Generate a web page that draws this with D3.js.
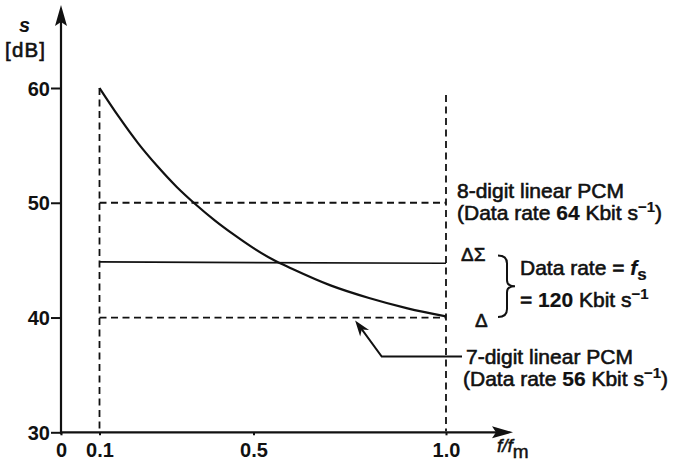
<!DOCTYPE html>
<html><head><meta charset="utf-8">
<script src="https://cdn.jsdelivr.net/npm/d3@7"></script>
<style>
body{margin:0;background:#fff}
svg{display:block}
text{font-family:"Liberation Sans",Arial,Helvetica,sans-serif;fill:#111}
</style>
</head><body>
<svg id="chart" width="682" height="464"></svg>
<script>
// Signal-to-noise ratio s [dB] vs. relative bandwidth f/fm
const curveF = [0.1, 0.15, 0.2, 0.25, 0.3, 0.35, 0.4, 0.45, 0.5, 0.55, 0.6, 0.7, 0.8, 0.9, 1.0];
const curveS = [60, 57.5, 55.2, 53.2, 51.4, 49.85, 48.45, 47.2, 46.05, 45.05, 44.25, 42.8, 41.7, 40.8, 40.1];
const pcm8Level = 50;          // 8-digit linear PCM
const pcm7Level = 40;          // 7-digit linear PCM
const deltaSigmaLevel = 44.8;  // delta-sigma modulation
const bandLimits = [0.1, 1.0];
const bandTops = [60, 59.4];
const xTicks = [0, 0.1, 0.5, 1.0];
const xTickLabels = ["0", "0.1", "0.5", "1.0"];
const yTicks = [30, 40, 50, 60];
const yTickLabels = ["30", "40", "50", "60"];
// pointer for the 7-digit label: tip and elbow in data units
const pointerTip = [0.764, 39.75];
const pointerElbow = [0.833, 36.6];

const svg = d3.select("#chart");
const x = d3.scaleLinear().domain([0, 1]).range([61, 446]);
const y = d3.scaleLinear().domain([30, 60]).range([432.3, 88]);
const ink = "#111";
const dash = "7,4.5";

// axes with arrowheads
const x0 = x(0), y0 = y(30);
const xEnd = x.range()[1] + 67, yEnd = y.range()[1] - 83;
svg.append("line").attr("x1", x0).attr("y1", y0 + 2).attr("x2", x0).attr("y2", yEnd + 10)
  .attr("stroke", ink).attr("stroke-width", 2.2);
svg.append("line").attr("x1", x0 - 1).attr("y1", y0).attr("x2", xEnd - 10).attr("y2", y0)
  .attr("stroke", ink).attr("stroke-width", 2.2);
svg.append("path").attr("d", `M${x0},${yEnd} L${x0 + 6},${yEnd + 21} L${x0},${yEnd + 17} L${x0 - 6},${yEnd + 21} Z`).attr("fill", ink);
svg.append("path").attr("d", `M${xEnd},${y0} L${xEnd - 21},${y0 - 6} L${xEnd - 17},${y0} L${xEnd - 21},${y0 + 6} Z`).attr("fill", ink);

const yAxis = d3.axisLeft(y).tickValues(yTicks).tickSize(10).tickPadding(1)
  .tickFormat((d, i) => yTickLabels[i]);
const gy = svg.append("g").attr("transform", `translate(${x0},0)`).call(yAxis);
gy.select(".domain").remove();
gy.selectAll(".tick line").attr("stroke", ink).attr("stroke-width", 2);
gy.selectAll(".tick text").attr("font-size", 20).attr("font-weight", "bold")
  .attr("font-family", "Liberation Sans, Arial, sans-serif").attr("fill", ink).attr("dy", "0.36em");

const xAxis = d3.axisBottom(x).tickValues(xTicks).tickSize(3).tickPadding(8)
  .tickFormat((d, i) => xTickLabels[i]);
const gx = svg.append("g").attr("transform", `translate(0,${y0})`).call(xAxis);
gx.select(".domain").remove();
gx.selectAll(".tick line").attr("stroke", ink).attr("stroke-width", 2);
gx.selectAll(".tick text").attr("font-size", 20).attr("font-weight", "bold")
  .attr("font-family", "Liberation Sans, Arial, sans-serif").attr("fill", ink).attr("dy", "0.71em");

// axis titles
svg.append("text").attr("x", 19).attr("y", 32).attr("font-size", 20).attr("font-weight", "bold")
  .attr("font-style", "italic").text("s");
svg.append("text").attr("x", 5).attr("y", 57).attr("font-size", 20.5).attr("letter-spacing", 1.2)
  .attr("stroke", ink).attr("stroke-width", 0.6).text("[dB]");
const xt = svg.append("text").attr("x", 497).attr("y", 452).attr("font-size", 19)
  .attr("font-style", "italic").attr("stroke", ink).attr("stroke-width", 0.5);
xt.append("tspan").text("f/f");
xt.append("tspan").attr("dy", 6).attr("font-style", "normal").attr("font-size", 19).text("m");

// band limit verticals
bandLimits.forEach((f, i) => {
  svg.append("line").attr("x1", x(f)).attr("x2", x(f)).attr("y1", y(bandTops[i])).attr("y2", y0 - 1)
    .attr("stroke", ink).attr("stroke-width", 1.8).attr("stroke-dasharray", dash);
});

// PCM reference levels
[pcm8Level, pcm7Level].forEach(v => {
  svg.append("line").attr("x1", x(bandLimits[0])).attr("x2", x(bandLimits[1]))
    .attr("y1", y(v)).attr("y2", y(v))
    .attr("stroke", ink).attr("stroke-width", 1.8).attr("stroke-dasharray", dash);
});

// delta-sigma level
svg.append("line").attr("x1", x(bandLimits[0])).attr("x2", x(bandLimits[1]))
  .attr("y1", y(deltaSigmaLevel) - 0.5).attr("y2", y(deltaSigmaLevel) + 0.8)
  .attr("stroke", ink).attr("stroke-width", 1.7);

// delta modulation curve
const pts = curveF.map((f, i) => [f, curveS[i]]);
svg.append("path").datum(pts)
  .attr("d", d3.line().x(d => x(d[0])).y(d => y(d[1])).curve(d3.curveMonotoneX))
  .attr("fill", "none").attr("stroke", ink).attr("stroke-width", 2.2);

// pointer to the 7-digit level
const tip = [x(pointerTip[0]), y(pointerTip[1])];
const elb = [x(pointerElbow[0]), y(pointerElbow[1])];
const lineEnd = x(bandLimits[1]) + 16;
svg.append("path").attr("d", `M${lineEnd},${elb[1]} L${elb[0]},${elb[1]} L${tip[0] + 6},${tip[1] + 8}`)
  .attr("fill", "none").attr("stroke", ink).attr("stroke-width", 2);
const ang = Math.atan2(elb[1] - tip[1], elb[0] - tip[0]);
const hl = 16, hw = 5.5;
const bx = tip[0] + hl * Math.cos(ang), by = tip[1] + hl * Math.sin(ang);
const nx = -Math.sin(ang) * hw, ny = Math.cos(ang) * hw;
svg.append("path")
  .attr("d", `M${tip[0]},${tip[1]} L${bx + nx},${by + ny} L${tip[0] + 0.7 * hl * Math.cos(ang)},${tip[1] + 0.7 * hl * Math.sin(ang)} L${bx - nx},${by - ny} Z`)
  .attr("fill", ink);

// text labels on the right
function label(xp, yp, parts, size) {
  const t = svg.append("text").attr("x", xp).attr("y", yp).attr("font-size", size || 21)
    .attr("stroke", ink).attr("stroke-width", 0.6);
  parts.forEach(p => {
    const s = t.append("tspan").text(p.t);
    if (p.b) s.attr("font-weight", "bold").attr("stroke-width", 0.2);
    if (p.i) s.attr("font-style", "italic");
    if (p.sup) s.attr("font-size", 15).attr("dy", -8);
    if (p.down) s.attr("dy", p.down);
    if (p.sub) s.attr("font-size", 17).attr("dy", 5);
  });
  return t;
}
const xr = x(bandLimits[1]);
label(xr + 11, y(pcm8Level) - 5, [{t: "8-digit linear PCM"}]);
label(xr + 11, y(pcm8Level) + 17, [{t: "(Data rate "}, {t: "64", b: true}, {t: " Kbit s"}, {t: "\u22121", sup: true, b: true}, {t: ")", down: 8}]);
label(xr + 15, y(deltaSigmaLevel) - 1, [{t: "\u0394\u03A3"}], 19);
label(xr + 29, y(pcm7Level) + 9, [{t: "\u0394"}], 19);
label(xr + 74, y(deltaSigmaLevel) + 13, [{t: "Data rate = "}, {t: "f", i: true, b: true}, {t: "s", sub: true, b: true}]);
label(xr + 74, y(deltaSigmaLevel) + 45, [{t: "= "}, {t: "120", b: true}, {t: " Kbit s"}, {t: "\u22121", sup: true, b: true}]);
label(lineEnd + 4, elb[1] + 7, [{t: "7-digit linear PCM"}]);
label(lineEnd + 1, elb[1] + 29, [{t: "(Data rate "}, {t: "56", b: true}, {t: " Kbit s"}, {t: "\u22121", sup: true, b: true}, {t: ")", down: 8}]);

// brace joining the two modulation labels
const bxL = xr + 52, bTop = y(deltaSigmaLevel) - 7, bBot = y(pcm7Level) - 0.5, bMid = (bTop + bBot) / 2;
svg.append("path")
  .attr("d", `M${bxL},${bTop} Q${bxL + 9},${bTop} ${bxL + 9},${bTop + 8} L${bxL + 9},${bMid - 6} Q${bxL + 9},${bMid} ${bxL + 17},${bMid} Q${bxL + 9},${bMid} ${bxL + 9},${bMid + 6} L${bxL + 9},${bBot - 8} Q${bxL + 9},${bBot} ${bxL},${bBot}`)
  .attr("fill", "none").attr("stroke", ink).attr("stroke-width", 2);
</script>
</body></html>
